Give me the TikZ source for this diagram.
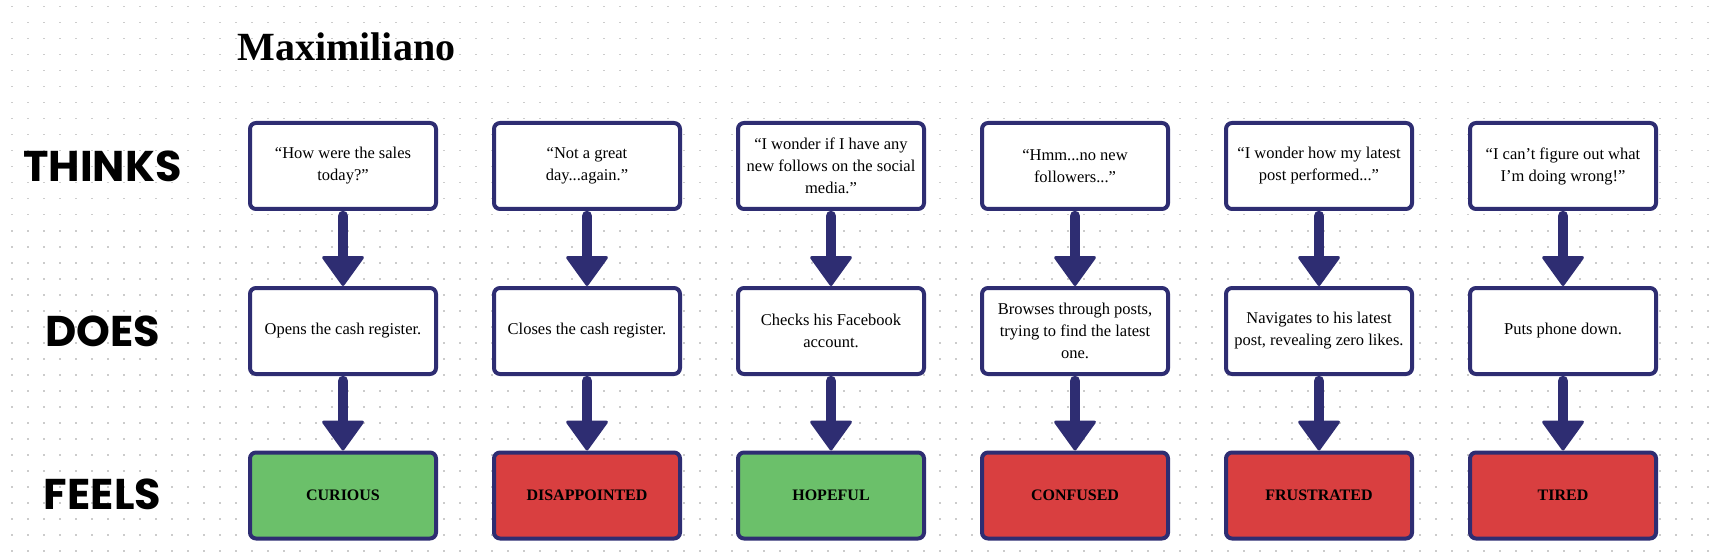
\documentclass[tikz,border=0pt]{standalone}
\usepackage{fontspec}
\setmainfont{Liberation Serif}
\newfontfamily\lblfont{Poppins}
\usetikzlibrary{arrows.meta}
\definecolor{navy}{HTML}{2E2D72}
\definecolor{okgreen}{HTML}{6BC06A}
\definecolor{badred}{HTML}{D93F40}
\definecolor{dotgray}{HTML}{CCCCCC}
\tikzset{
  box/.style={draw=navy, line width=4pt, rounded corners=6pt, minimum width=186pt,
    minimum height=86pt, inner sep=0pt, align=center, text=black},
  thinkbox/.style={box, fill=white, font=\fontsize{16.5}{22}\selectfont},
  feelbox/.style={box, font=\fontsize{16}{22}\selectfont\bfseries},
  good/.style={feelbox, fill=okgreen},
  bad/.style={feelbox, fill=badred},
  flow/.style={draw=navy, line width=10.5pt, line cap=round,
    -{Triangle[width=44pt,length=31pt,round,line width=3pt 0]}},
  rowlabel/.style={font=\lblfont\bfseries\fontsize{43}{43}\selectfont, anchor=base},
  titletext/.style={font=\bfseries\fontsize{40}{40}\selectfont, anchor=base west},
}
\begin{document}
\begin{tikzpicture}[x=1pt,y=1pt]
\useasboundingbox (0,0) rectangle (1713,-556);
\fill[white] (0,0) rectangle (1713,-556);
\foreach \i in {0,...,106}{\foreach \j in {0,...,34}{
  \fill[dotgray] (10.9+16*\i, -5.9-16*\j) rectangle ++(1.6,-1.6);}}

\node[titletext] (title) at (234,-61) {Maximiliano};
\node[rowlabel] (lt) at (102.5,-182) {THINKS};
\node[rowlabel] (ld) at (102.5,-346) {DOES};
\node[rowlabel] (lf) at (102.5,-509) {FEELS};

% column 1
\node[thinkbox] (t1) at (343,-166) {“How were the sales\\today?”};
\node[thinkbox] (d1) at (343,-331) {Opens the cash register.};
\node[good] (f1) at (343,-495.5) {CURIOUS};
% column 2
\node[thinkbox] (t2) at (587,-166) {“Not a great\\day...again.”};
\node[thinkbox] (d2) at (587,-331) {Closes the cash register.};
\node[bad] (f2) at (587,-495.5) {DISAPPOINTED};
% column 3
\node[thinkbox] (t3) at (831,-166) {“I wonder if I have any\\new follows on the social\\media.”};
\node[thinkbox] (d3) at (831,-331) {Checks his Facebook\\account.};
\node[good] (f3) at (831,-495.5) {HOPEFUL};
% column 4
\node[thinkbox] (t4) at (1075,-166) {“Hmm...no new\\followers...”};
\node[thinkbox] (d4) at (1075,-331) {Browses through posts,\\trying to find the latest\\one.};
\node[bad] (f4) at (1075,-495.5) {CONFUSED};
% column 5
\node[thinkbox] (t5) at (1319,-166) {“I wonder how my latest\\post performed...”};
\node[thinkbox] (d5) at (1319,-331) {Navigates to his latest\\post, revealing zero likes.};
\node[bad] (f5) at (1319,-495.5) {FRUSTRATED};
% column 6
\node[thinkbox] (t6) at (1563,-166) {“I can’t figure out what\\I’m doing wrong!”};
\node[thinkbox] (d6) at (1563,-331) {Puts phone down.};
\node[bad] (f6) at (1563,-495.5) {TIRED};

\foreach \k in {1,...,6}{
  \draw[flow] ([yshift=-5pt]t\k.south) -- (d\k.north);
  \draw[flow] ([yshift=-5pt]d\k.south) -- (f\k.north);
}
\end{tikzpicture}
\end{document}
